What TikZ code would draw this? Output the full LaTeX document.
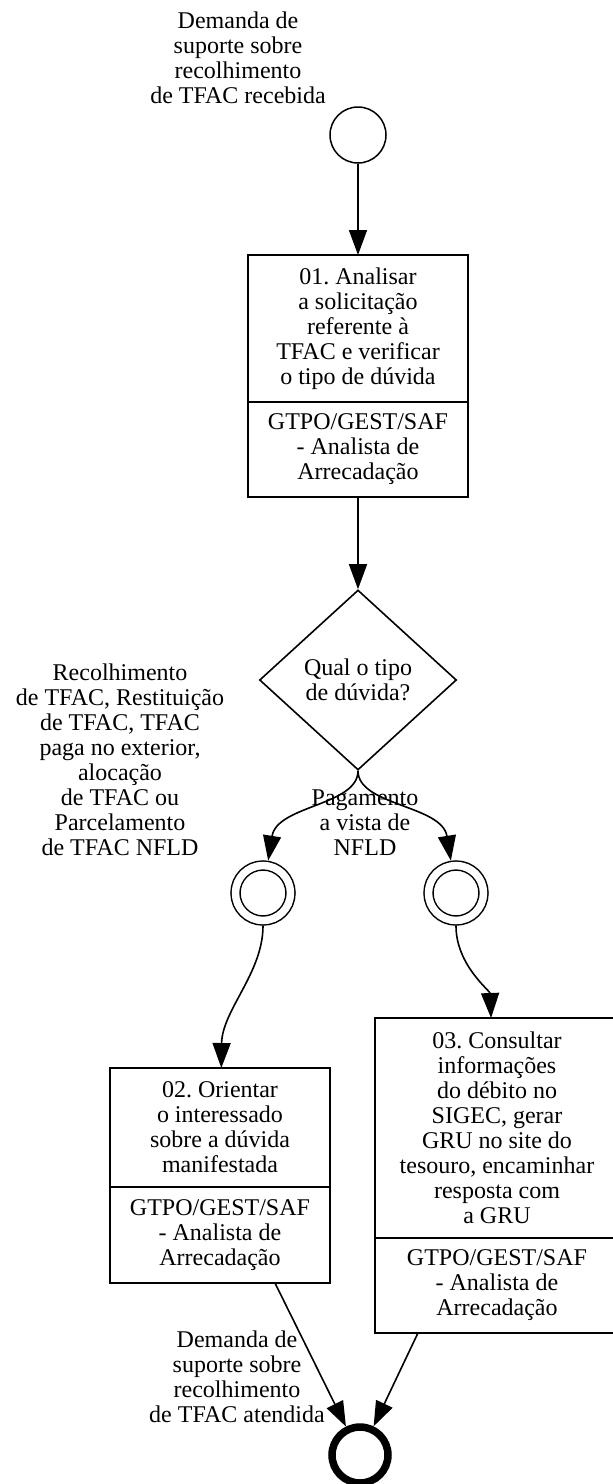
\documentclass[tikz,border=0pt]{standalone}
\usepackage{fontspec}
\setmainfont{Liberation Serif}
\usetikzlibrary{arrows.meta,shapes.geometric,calc}
\frenchspacing
\begin{document}
\begin{tikzpicture}[x=1pt,y=-1pt,
  font=\fontsize{24}{25}\selectfont,
  lbl/.style={align=center,inner sep=0pt},
  task/.style={draw,line width=1.6pt,inner sep=0pt,outer sep=0pt},
  divider/.style={line width=1.6pt},
  startev/.style={draw,circle,line width=1.5pt,minimum size=56pt,inner sep=0pt},
  interev/.style={draw,circle,line width=1.5pt,double,double distance=7.5pt,
    minimum size=55pt,inner sep=0pt,outer sep=5.3pt},
  endev/.style={draw,circle,line width=7.5pt,minimum size=56pt,inner sep=0pt},
  gate/.style={draw,diamond,line width=1.6pt,minimum width=197pt,minimum height=180pt,
    inner sep=0pt,align=center},
  flow/.style={line width=1.6pt,-{Triangle[length=25pt,width=18pt]}}
]
\useasboundingbox (0,0) rectangle (613,1484);

% start event and its label
\node[startev] (s) at (358,135) {};
\node[lbl] (sl) at (238,58) {Demanda de\\suporte sobre\\recolhimento\\de TFAC recebida};

% task 01
\node[task,minimum width=220pt,minimum height=242pt] (b1) at (358,376) {};
\node[lbl] (b1t) at (358,328.5) {01. Analisar\\a solicitação\\referente à\\TFAC e verificar\\o tipo de dúvida};
\node[lbl] (b1r) at (358,449.5) {GTPO/GEST/SAF\\- Analista de\\Arrecadação};
\draw[divider] (b1.west |- 0,402) -- (b1.east |- 0,402);

% decision
\node[gate] (d) at (358,680) {Qual o tipo\\de dúvida?};
\node[lbl] (ll) at (120,759.5) {Recolhimento\\de TFAC, Restituição\\de TFAC, TFAC\\paga no exterior,\\alocação\\de TFAC ou\\Parcelamento\\de TFAC NFLD};
\node[lbl] (rl) at (365,823) {Pagamento\\a vista de\\NFLD};

% intermediate events
\node[interev] (c1) at (263,893) {};
\node[interev] (c2) at (456,893) {};

% task 02
\node[task,minimum width=220pt,minimum height=215pt] (b2) at (220,1175.5) {};
\node[lbl] (b2t) at (220,1127.5) {02. Orientar\\o interessado\\sobre a dúvida\\manifestada};
\node[lbl] (b2r) at (220,1235) {GTPO/GEST/SAF\\- Analista de\\Arrecadação};
\draw[divider] (b2.west |- 0,1187) -- (b2.east |- 0,1187);

% task 03
\node[task,minimum width=244pt,minimum height=315pt] (b3) at (497,1175.5) {};
\node[lbl] (b3t) at (497,1128) {03. Consultar\\informações\\do débito no\\SIGEC, gerar\\GRU no site do\\tesouro, encaminhar\\resposta com\\a GRU};
\node[lbl] (b3r) at (497,1285.5) {GTPO/GEST/SAF\\- Analista de\\Arrecadação};
\draw[divider] (b3.west |- 0,1238) -- (b3.east |- 0,1238);

% end event and its label
\node[endev] (e) at (360,1455) {};
\node[lbl] (el) at (237,1377) {Demanda de\\suporte sobre\\recolhimento\\de TFAC atendida};

% sequence flows
\draw[flow] (s) -- (b1);
\draw[flow] (b1) -- (d);
\draw[flow] (d.south) .. controls +(0,35) and +(14,-88) .. (c1);
\draw[flow] (d.south) .. controls +(0,35) and +(-14,-88) .. (c2);
\draw[flow] (c1) .. controls +(0,80) and +(2,-165) .. (b2);
\draw[flow] (c2) .. controls +(0,72) and +(-7,-185) .. (b3);
\draw[flow] ($(b2.south west)!0.75!(b2.south east)$) -- (e);
\draw[flow] ($(b3.south west)!0.176!(b3.south east)$) -- (e);
\end{tikzpicture}
\end{document}
